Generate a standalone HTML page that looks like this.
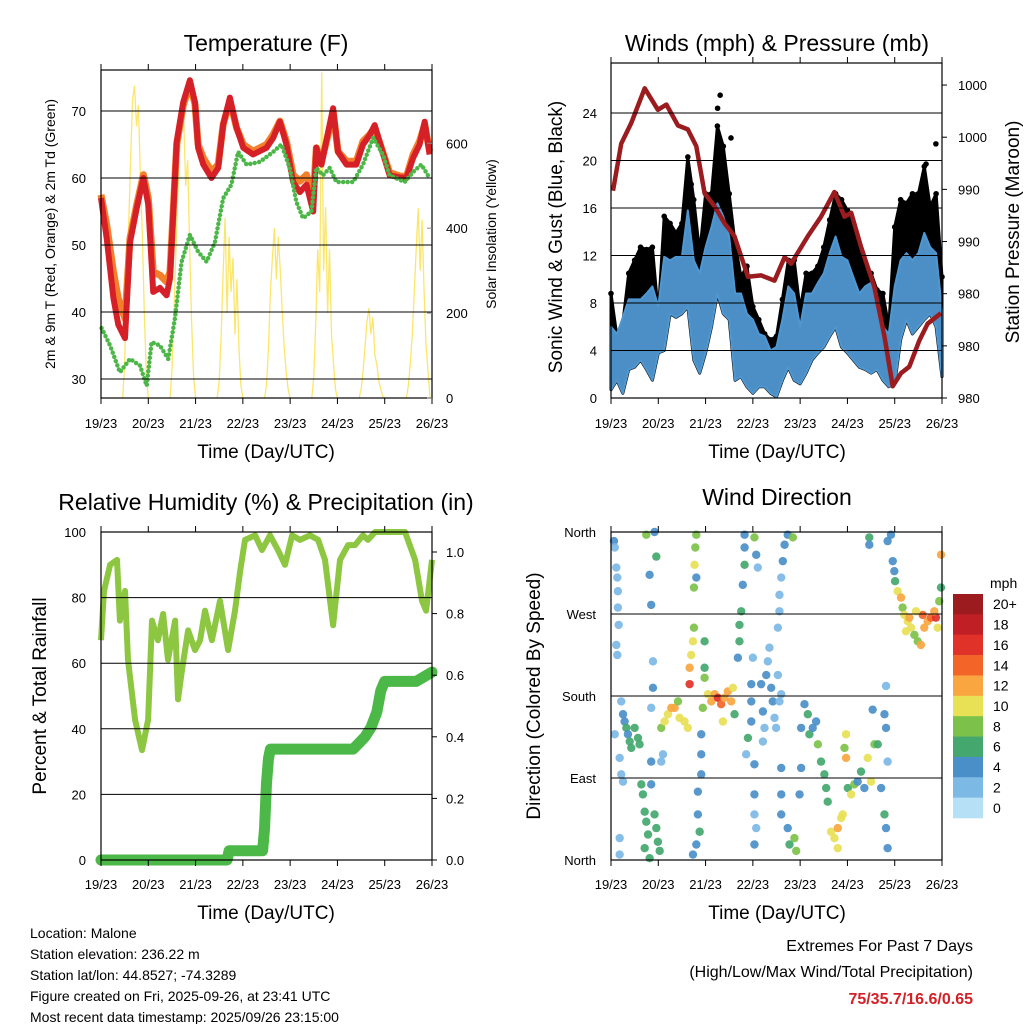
<!DOCTYPE html>
<html><head><meta charset="utf-8">
<style>
html,body{margin:0;padding:0;background:#fff;}
svg{display:block;font-family:"Liberation Sans",Arial,sans-serif;}
</style></head>
<body>
<svg id="chart" width="1024" height="1024" viewBox="0 0 1024 1024" xmlns="http://www.w3.org/2000/svg">
<rect x="0" y="0" width="1024" height="1024" fill="#fff"/>
<g id="layer"></g>
</svg>
<script>
// ===== DATA =====
const dayLabels = ["19/23","20/23","21/23","22/23","23/23","24/23","25/23","26/23"];
// Temperature panel (hours since start)
const tempHours = [0,2.9,6.3,8.8,12.2,14.7,18.1,21.5,24,26.5,29.9,33.3,35,38.4,41.7,45.1,47.7,49.3,51.9,56.1,59.5,62,65.4,68.8,72.2,77.2,84,87.4,90.8,94.1,97.5,100.9,104.3,107.7,109.3,111.9,115.3,117.8,120.3,124.6,129.6,133,136.4,138.9,142.3,146.5,151.6,155,158.4,161.7,164.3,166.8];
const temp2m = [57,51,42.1,38.1,36.1,50.4,55.5,60,56,43,43.6,42.5,45,65.4,71.3,74.6,71.3,64.5,62,60,61.5,68,72,67.5,64.5,63.5,64.5,66,68.4,65,59.4,57.9,59,55,64.5,62,66.9,70.4,63.9,62,62,65,66.4,67.9,64.5,60.4,60.1,60,63,65,68.4,63.5];
const temp9m = [57.5,53,46,42,39,51,56,60.5,57,46,45.5,44.5,46,65,70.8,74,71,65,63,61,62,68,71.5,67.5,65,64,65,66.5,68.5,65.5,60.5,59.5,60.5,57,64.5,62.5,66.5,70,64,62.5,62.5,65.5,66.5,67.5,64.5,60.8,60.3,60.2,63.5,65.5,68,64];
const dewHours = [0.3,4.6,9.6,14.7,19.8,23.2,25.7,29.9,34.1,37.5,40.9,45.1,49.3,53.6,57.8,62,66.2,69.6,73.9,80.6,87.4,91.6,95.8,99.2,102.6,106.8,109.3,112.7,116.1,119.5,128,133,138.1,143.1,146.5,154.1,158.4,162.6,166.8];
const dewPoint = [37.6,35,31,33,32,29,35.5,35,33,39,47.5,51.5,49,47.5,50.4,57,59,63.9,62,62.4,63.9,65,61.5,56.4,54,55,61.5,60.4,61.5,59.4,59.4,62,66,63.5,60.4,59.4,60.9,62,60];
const solarDayStarts = [11,35,59,83,107,131,155];
const solarDay0 = [0,80,250,400,560,700,736,640,690,520,380,200,60,0];
const solarDay1 = [0,60,200,350,480,600,706,650,500,560,350,180,50,0];
const solarDay2 = [0,40,150,300,424,200,380,250,330,150,280,120,30,0];
const solarDay3 = [0,30,120,250,330,400,280,380,300,200,120,60,20,0];
const solarDay4 = [0,50,180,350,250,767,300,450,200,350,150,80,20,0];
const solarDay5 = [0,20,60,120,180,212,150,190,100,80,40,20,5,0];
const solarDay6 = [0,30,80,150,250,350,447,300,420,250,120,60,0,0];
const tempTicks = [30,40,50,60,70];
const solarTicks = [0,200,400,600];
// Winds panel (3-hour steps)
const windHigh = [6.0,5.4,6.8,8.3,8.3,8.3,8.8,9.4,7.7,11.9,11.6,11.9,11.9,15.8,11.6,10.5,12.7,14.4,16.4,15.3,13.6,8.8,8.8,7.1,6.6,5.4,5.2,4.0,4.3,6.6,9.4,8.8,6.0,8.8,8.8,9.7,10.5,12.2,13.6,11.9,11.6,10.2,8.8,9.4,9.7,8.3,6.0,5.4,9.4,11.6,12.2,11.6,12.2,13.9,12.7,12.2,7.4];
const windLow = [0.7,1.5,0.4,2.4,2.6,3.2,2.4,1.5,3.8,4.0,7.1,6.8,7.1,7.7,3.2,2.1,3.8,6.0,8.8,7.1,6.6,1.5,1.8,0.95,0.4,0.95,0.95,0.4,0.1,1.5,2.6,1.5,1.2,2.1,3.2,3.8,4.3,5.2,6.0,4.3,3.8,3.2,2.6,2.4,2.1,2.4,1.5,0.95,1.2,4.9,6.6,5.4,6.0,6.6,7.1,6.0,1.8];
const gustValues = [8.8,5.2,6.3,10.5,11.6,12.7,12.5,12.7,7.1,15.3,14.7,13.9,14.7,20.3,16.7,12.2,17.2,17.2,22.9,21.2,17.2,13.0,10.2,11.1,7.7,6.6,5.4,4.9,5.2,8.3,11.6,11.6,7.4,10.5,10.5,11.1,12.7,15.0,17.2,16.7,15.8,13.9,13.0,11.1,10.5,9.1,8.8,6.0,14.4,16.7,16.4,17.2,17.2,19.5,16.1,17.2,10.2];
const gustOutlierHours = [55.4,54.1,60.9,164.9,159.9,40.7];
const gustOutlierValues = [25.5,24.4,21.9,21.4,19.7,18.0];
const pressHours = [1,5.2,10.3,17.1,23.8,28.1,34,39,43.3,47.5,52.6,57.6,62.7,69.5,76.2,83,88.1,91.4,99.9,106.6,113.4,118.5,121.9,126.9,133.7,138.8,143,147.2,151.4,156.5,160.7,167.5];
const pressValues = [991.9,995.5,997.1,999.75,998.1,998.5,996.9,996.6,995.3,991.7,990.7,989.4,988.4,985.3,985.4,985,986.8,986.3,988.4,989.9,991.8,989.9,990.2,987.6,984.5,980.7,976.9,977.9,978.4,980.4,981.7,982.5];
const speedTicks = [0,4,8,12,16,20,24];
const pressTicks = [976,980,984,988,992,996,1000];
const pressTickLabels = ["980","980","980","990","990","1000","1000"];
// RH & precip
const rhHours = [0,1.5,4.6,8.1,9.6,12.2,13.7,17.3,20.8,23.9,25.9,28.9,31.5,34,37.6,39.1,41.1,44.2,47.7,50.3,52.8,56.3,60.4,64.5,68,70.6,73.1,78.2,81.7,85.8,89.8,93.4,97,101,106.1,110.2,113.7,117.8,121.3,125.4,128.9,133,135.5,139.1,154.3,159.4,162.9,165,168];
const rhValues = [67,82,90,91.5,73,82,61,42.7,33.5,42.7,73,67,75,61,73,49,58,70,64,67,76,67,79,64,76,88,97.6,99,94.5,99,94.5,90,99,97.6,99,97.6,91.5,71.6,91.5,96,96,99,97.6,100,100,91.5,79,76,91.5];
const precipHours = [0,64,65,82,83,84,85,86,128,131,134,137,140,142,144,160,168];
const precipValues = [0,0,0.03,0.03,0.1,0.25,0.33,0.36,0.36,0.38,0.40,0.43,0.48,0.55,0.58,0.58,0.61];
const rhTicks = [0,20,40,60,80,100];
const precipTicks = [0,0.2,0.4,0.6,0.8,1.0];
// Wind direction scatter
const dirHours = [1.5,1.9,2.7,3.2,3.5,3.5,3.9,2.7,3.2,5.2,6.1,6.9,7.8,8.6,9.5,10.3,12,13.7,14.5,1.9,4.4,5.2,4.4,4.4,6.1,
25.5,27.2,28.9,30.6,32.3,34.8,37.3,39,34,26.4,25.5,20.4,21.3,21.3,20.4,20.4,19.6,23,17.9,22.1,
15.4,16.2,17.1,17.9,18.8,17.1,22.1,23,23.8,24.7,19.6,20.4,
39.9,39.9,40.7,41.6,42.1,42.1,42.4,42.8,43.3,43.3,47.5,47.5,47.5,49.2,50.9,52.6,54.3,55.9,57.6,59.3,61,61.9,56.8,62.7,46.6,45.8,45.8,45.8,44.1,44.1,45,43.3,41.6,
64.4,65.2,65.2,66.1,66.9,67.8,67.8,67.8,72.8,73.7,74.5,72,71.2,71.2,71.2,69.5,68.6,72.8,72.8,72.8,73.7,72.8,76.2,77.1,77.9,77.1,78.8,79.6,80.4,81.3,82.1,83,83.8,85.5,84.7,86.4,
84.7,85.5,85.5,86.4,87.2,88.1,89.7,92.3,86.4,86.4,86.4,89.7,90.6,93.1,94,95.7,96.5,98.2,96.5,
99.9,100.7,102.4,104.1,105,106.6,108.3,109.2,110,111.7,113.4,115.1,116.8,117.6,115.1,119.3,119.3,118.5,120.2,121.9,123.5,125.2,126.9,128.6,130.3,132,133.7,132.8,135.4,137.1,138.8,139.6,140.4,138.8,139.6,140.4,139.6,131.1,131.1,
142.1,140.4,143,143.8,144.2,145.5,147.2,148,148.9,150.6,152.3,154,155.7,157.3,159,160.7,162.4,164.9,164.1,165.8,166.6,167.5,167.5,151.4,158.2,154.8,149.7];
const dirDegrees = [350,343,321,310,295,277,258,236,225,174,160,152,145,138,130,123,145,134,127,138,112,94,24,6,86,
145,152,160,167,167,156,152,145,174,116,108,108,218,189,167,280,313,333,357,360,
83,72,53,42,28,13,50,35,20,10,2,83,
193,211,225,240,255,299,324,343,357,310,240,211,200,182,174,182,178,171,178,185,174,189,152,160,167,138,116,94,75,50,31,17,6,
222,240,258,273,302,324,343,357,354,335,321,222,193,174,152,134,116,105,72,50,35,17,193,163,145,130,203,218,233,189,174,156,145,174,203,182,
255,273,291,310,328,346,357,354,101,72,50,35,17,24,10,72,101,171,145,
160,138,145,152,127,108,94,79,64,31,24,35,46,50,13,138,112,123,79,72,83,86,97,79,112,86,127,165,127,79,50,35,13,160,145,108,191,354,346,
357,350,328,317,306,295,288,277,269,262,255,247,240,236,255,262,266,266,273,255,284,299,335,266,269,273,251];
const dirSpeeds = [3,2,2,1,2,1,1,1,2,1,4,4,6,4,6,5,6,6,6,2,1,1,2,2,1,
8,10,10,12,12,10,10,10,8,2,2,3,2,4,2,4,4,6,8,4,
6,6,5,6,6,6,6,5,6,6,5,4,
16,12,10,10,8,8,10,8,7,4,6,6,8,10,12,12,16,14,12,12,12,10,10,6,8,4,4,4,4,4,5,4,4,
4,6,6,6,4,6,4,4,8,4,2,2,4,4,4,6,2,4,4,2,2,4,4,4,2,2,4,2,2,4,4,1,1,1,2,1,
2,2,1,2,4,4,4,8,4,4,4,4,6,8,8,4,4,4,4,
6,6,4,4,8,6,6,6,6,10,10,12,10,10,10,10,12,8,6,10,8,4,6,4,10,10,8,4,6,4,6,4,4,4,4,2,2,6,4,
4,4,4,4,6,10,12,8,10,10,10,8,8,12,12,12,14,16,12,10,8,6,12,12,14,10,10];
const dirTicks = [0,90,180,270,360];
const dirTickLabels = ["North","East","South","West","North"];
const speedBins = ["0","2","4","6","8","10","12","14","16","18","20+"];
const speedColors = ["#b5e0f6","#7db9e5","#4a8fc8","#44a86e","#7cc24a","#e8e055","#f9a640","#f26428","#e03228","#c11f26","#9b1b1f"];

// ===== DRAWING =====
const NS = "http://www.w3.org/2000/svg";
const layer = document.getElementById('layer');
function mk(tag, attrs, parent){
  const e = document.createElementNS(NS, tag);
  for (const k in attrs) e.setAttribute(k, attrs[k]);
  (parent||layer).appendChild(e);
  return e;
}
function txt(s, x, y, size, anchor, parent, extra){
  const a = {x:x, y:y, 'font-size':size, 'text-anchor':anchor||'middle', fill:'#000'};
  if (extra) for (const k in extra) a[k]=extra[k];
  const t = mk('text', a, parent);
  t.textContent = s;
  return t;
}
function xScale(p, h){ return p.x0 + h/168*(p.x1-p.x0); }
function poly(xs, ys){ return xs.map((x,i)=>x.toFixed(1)+','+ys[i].toFixed(1)).join(' '); }

const P1 = {x0:101,x1:432,y0:70,y1:398};
const P2 = {x0:611,x1:942,y0:63,y1:398};
const P3 = {x0:101,x1:432,y0:532,y1:860};
const P4 = {x0:611,x1:942,y0:532,y1:860};

function frame(p, name, labelY){
  const g = mk('g', {});
  
  
  dayLabels.forEach((lab, i) => {
    const x = xScale(p, i*24);
    mk('line', {x1:x, y1:p.y1, x2:x, y2:p.y1+6, stroke:'#000', 'stroke-width':1}, g);
    mk('line', {x1:x, y1:p.y0, x2:x, y2:p.y0-6, stroke:'#000', 'stroke-width':1}, g);
    const t = txt(lab, x, labelY, 13, 'middle', g);
    
    
  });
}
function box(p, name){
  const r = mk('rect', {x:p.x0, y:p.y0, width:p.x1-p.x0, height:p.y1-p.y0, fill:'none', stroke:'#000', 'stroke-width':1.2});
  
  
}
function grid(p, ys){
  ys.forEach(y => { mk('line', {x1:p.x0, x2:p.x1, y1:y, y2:y, stroke:'#000', 'stroke-width':1}); });
}

// ---- Panel 1: Temperature ----
const tY = v => 379 - (v-30)*6.7;
const sY = v => 398 - v*0.4245;
(function(){
  const g = mk('g', {});
  
  
  grid(P1, tempTicks.map(tY));
  const days = [solarDay0,solarDay1,solarDay2,solarDay3,solarDay4,solarDay5,solarDay6];
  days.forEach((arr, d) => {
    const xs = arr.map((v,i)=>xScale(P1, solarDayStarts[d]+i));
    const ys = arr.map(v=>sY(v));
    const l = mk('polyline', {points:poly(xs,ys), fill:'none', stroke:'#fbe35a', 'stroke-width':1.3, opacity:0.9}, g);
    
    
  });
  const o = mk('polyline', {points:poly(tempHours.map(h=>xScale(P1,h)), temp9m.map(tY)), fill:'none', stroke:'#f47f2a', 'stroke-width':7, 'stroke-linejoin':'round'}, g);
  
  
  const r = mk('polyline', {points:poly(tempHours.map(h=>xScale(P1,h)), temp2m.map(tY)), fill:'none', stroke:'#d62027', 'stroke-width':6, 'stroke-linejoin':'round'}, g);
  
  
  const d = mk('polyline', {points:poly(dewHours.map(h=>xScale(P1,h)), dewPoint.map(tY)), fill:'none', stroke:'#4cb748', 'stroke-width':4.5, 'stroke-linecap':'round', 'stroke-dasharray':'0 4.5', 'stroke-linejoin':'round'}, g);
  
  
  box(P1, 'temperature');
  frame(P1, 'temperature', 428);
  tempTicks.forEach(v => { const t = txt(String(v), 86, tY(v)+5, 13, 'end');
      });
  solarTicks.forEach(v => { mk('line',{x1:P1.x1,x2:P1.x1-5,y1:sY(v),y2:sY(v),stroke:'#888'});
    const t = txt(String(v), 446, sY(v)+5, 13, 'start');
      });
  let t = txt('Temperature (F)', 266, 51, 23);  
  t = txt('Time (Day/UTC)', 266, 458, 19);  
  t = txt('2m & 9m T (Red, Orange) & 2m Td (Green)', 0, 0, 14, 'middle', null, {transform:'translate(55,234) rotate(-90)'});
   
  t = txt('Solar Insolation (Yellow)', 0, 0, 14, 'middle', null, {transform:'translate(496,234) rotate(-90)'});
   
})();

// ---- Panel 2: Winds ----
const wY = v => 398 - v*11.875;
const pY = v => 398 - (v-976)*13.04;
(function(){
  const g = mk('g', {});
  
  
  grid(P2, speedTicks.slice(1).map(wY));
  const hrs = windHigh.map((v,i)=>i*3);
  const xs = hrs.map(h=>xScale(P2,h));
  const blackPts = poly(xs, gustValues.map(wY)) + ' ' + poly(xs.slice().reverse(), windLow.slice().reverse().map(wY));
  const gb = mk('polygon', {points:blackPts, fill:'#000', stroke:'#000', 'stroke-width':3, 'stroke-linejoin':'round'}, g);
  
  
  gustValues.forEach((v,i) => {
    const c = mk('circle', {cx:xs[i], cy:wY(v), r:2.8, fill:'#000'}, g);
    
    
  });
  gustOutlierHours.forEach((h,i) => {
    const c = mk('circle', {cx:xScale(P2,h), cy:wY(gustOutlierValues[i]), r:2.8, fill:'#000'}, g);
    
    
  });
  const bluePts = poly(xs, windHigh.map(wY)) + ' ' + poly(xs.slice().reverse(), windLow.slice().reverse().map(wY));
  const bb = mk('polygon', {points:bluePts, fill:'#4f97d1', stroke:'#4f97d1', 'stroke-width':2, 'stroke-linejoin':'round', 'fill-opacity':0.95}, g);
  
  
  const pl = mk('polyline', {points:poly(pressHours.map(h=>xScale(P2,h)), pressValues.map(pY)), fill:'none', stroke:'#9b1c1f', 'stroke-width':4.5, 'stroke-linejoin':'round'}, g);
  
  
  box(P2, 'winds');
  frame(P2, 'winds', 428);
  speedTicks.forEach(v => { const t = txt(String(v), 597, wY(v)+5, 13, 'end');
      });
  pressTicks.forEach((v,i) => { mk('line',{x1:P2.x1,x2:P2.x1+5,y1:pY(v),y2:pY(v),stroke:'#000'});
    const t = txt(pressTickLabels[i], 958, pY(v)+5, 13, 'start');
      });
  let t = txt('Winds (mph) & Pressure (mb)', 777, 51, 23);  
  t = txt('Time (Day/UTC)', 777, 458, 19);  
  t = txt('Sonic Wind & Gust (Blue, Black)', 0, 0, 19, 'middle', null, {transform:'translate(562,237) rotate(-90)'});
   
  t = txt('Station Pressure (Maroon)', 0, 0, 19, 'middle', null, {transform:'translate(1019,232) rotate(-90)'});
   
})();

// ---- Panel 3: RH & Precip ----
const rY = v => 860 - v*3.28;
const qY = v => 860 - v*308;
(function(){
  const g = mk('g', {});
  
  
  grid(P3, rhTicks.slice(1,5).map(rY));
  const rl = mk('polyline', {points:poly(rhHours.map(h=>xScale(P3,h)), rhValues.map(rY)), fill:'none', stroke:'#8dc641', 'stroke-width':6, 'stroke-linejoin':'round'}, g);
  
  
  const pl = mk('polyline', {points:poly(precipHours.map(h=>xScale(P3,h)), precipValues.map(qY)), fill:'none', stroke:'#4cb848', 'stroke-width':11, 'stroke-linejoin':'round', 'stroke-linecap':'round'}, g);
  
  
  box(P3, 'humidity');
  frame(P3, 'humidity', 889);
  rhTicks.forEach(v => { const t = txt(String(v), 86, rY(v)+5, 13, 'end');
      });
  precipTicks.forEach(v => { mk('line',{x1:P3.x1,x2:P3.x1+5,y1:qY(v),y2:qY(v),stroke:'#000'});
    const t = txt(v.toFixed(1), 446, qY(v)+5, 13, 'start');
      });
  let t = txt('Relative Humidity (%) & Precipitation (in)', 266, 510, 23);  
  t = txt('Time (Day/UTC)', 266, 919, 19);  
  t = txt('Percent & Total Rainfall', 0, 0, 19, 'middle', null, {transform:'translate(46,696) rotate(-90)'});
   
})();

// ---- Panel 4: Wind direction ----
const dY = v => 860 - v*82/90;
function speedColor(s){ let i = Math.floor(s/2 + 0.5); if (i>10) i=10; if (i<0) i=0; return speedColors[i]; }
(function(){
  const g = mk('g', {});
  
  
  grid(P4, dirTicks.slice(1,4).map(dY));
  dirHours.forEach((h,i) => {
    const c = mk('circle', {cx:xScale(P4,h), cy:dY(dirDegrees[i]), r:4.2, fill:speedColor(dirSpeeds[i]), opacity:0.92}, g);
    
    
  });
  box(P4, 'wind-direction');
  frame(P4, 'wind-direction', 889);
  dirTicks.forEach((v,i) => { const t = txt(dirTickLabels[i], 596, dY(v)+5, 13, 'end');
      });
  const cb = mk('g', {});
  
  
  const bh = (818-594)/11;
  for (let i=0;i<11;i++){
    const idx = 10-i;
    const r = mk('rect', {x:953, y:594+i*bh, width:30, height:bh+0.3, fill:speedColors[idx]}, cb);
    
    
    const t = txt(speedBins[idx], 993, 594+i*bh+bh/2+5, 14, 'start', cb);
    
    
  }
  let t = txt('mph', 990, 588, 14, 'start', cb);  
  t = txt('Wind Direction', 777, 505, 23);  
  t = txt('Time (Day/UTC)', 777, 919, 19);  
  t = txt('Direction (Colored By Speed)', 0, 0, 19, 'middle', null, {transform:'translate(540,696) rotate(-90)'});
   
})();

// ---- Footer text ----
(function(){
  const info = ["Location: Malone","Station elevation: 236.22 m","Station lat/lon: 44.8527; -74.3289","Figure created on Fri, 2025-09-26, at 23:41 UTC","Most recent data timestamp: 2025/09/26 23:15:00"];
  info.forEach((s,i) => { const t = txt(s, 30, 938+i*21, 14, 'start');
      });
  let t = txt('Extremes For Past 7 Days', 973, 951, 16, 'end');  
  t = txt('(High/Low/Max Wind/Total Precipitation)', 973, 977, 16, 'end');  
  t = txt('75/35.7/16.6/0.65', 973, 1004, 16, 'end', null, {fill:'#d42027','font-weight':'bold'});  
})();
</script>
</body></html>
